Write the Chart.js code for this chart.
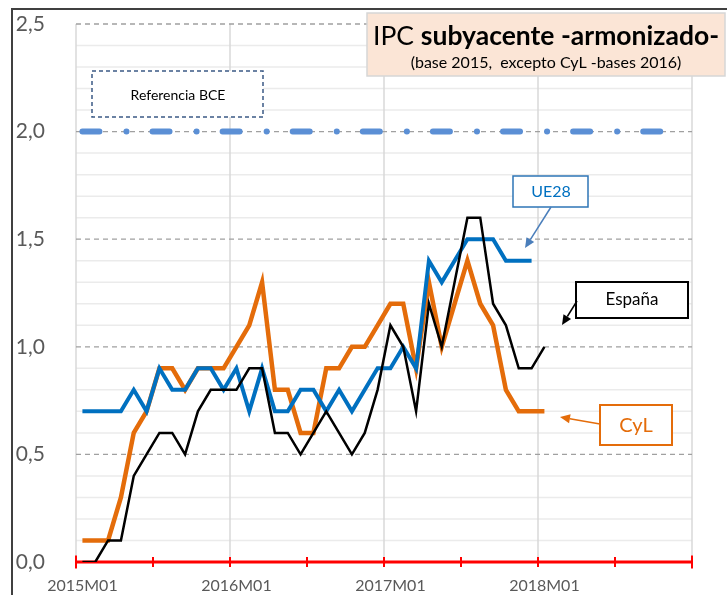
<!DOCTYPE html>
<html><head><meta charset="utf-8">
<script src="https://cdn.jsdelivr.net/npm/chart.js@4/dist/chart.umd.min.js"></script>
<style>html,body{margin:0;padding:0;background:#fff;}#wrap{position:relative;width:727px;height:595px;}</style>
</head><body><div id="wrap"><canvas id="c" width="727" height="595"></canvas></div>
<script>
const categories = [
 '2015M01','2015M02','2015M03','2015M04','2015M05','2015M06','2015M07','2015M08','2015M09','2015M10','2015M11','2015M12',
 '2016M01','2016M02','2016M03','2016M04','2016M05','2016M06','2016M07','2016M08','2016M09','2016M10','2016M11','2016M12',
 '2017M01','2017M02','2017M03','2017M04','2017M05','2017M06','2017M07','2017M08','2017M09','2017M10','2017M11','2017M12',
 '2018M01','2018M02','2018M03','2018M04','2018M05','2018M06','2018M07','2018M08','2018M09','2018M10','2018M11','2018M12'];
const espana = [0.0,0.0,0.1,0.1,0.4,0.5,0.6,0.6,0.5,0.7,0.8,0.8,
 0.8,0.9,0.9,0.6,0.6,0.5,0.6,0.7,0.6,0.5,0.6,0.8,
 1.1,1.0,0.7,1.2,1.0,1.3,1.6,1.6,1.2,1.1,0.9,0.9,
 1.0];
const ue28 = [0.7,0.7,0.7,0.7,0.8,0.7,0.9,0.8,0.8,0.9,0.9,0.8,
 0.9,0.7,0.9,0.7,0.7,0.8,0.8,0.7,0.8,0.7,0.8,0.9,
 0.9,1.0,0.9,1.4,1.3,1.4,1.5,1.5,1.5,1.4,1.4,1.4];
const cyl = [0.1,0.1,0.1,0.3,0.6,0.7,0.9,0.9,0.8,0.9,0.9,0.9,
 1.0,1.1,1.3,0.8,0.8,0.6,0.6,0.9,0.9,1.0,1.0,1.1,
 1.2,1.2,0.9,1.3,1.0,1.2,1.4,1.2,1.1,0.8,0.7,0.7,
 0.7];
const referenciaBCE = [2.0,2.0,2.0,2.0,2.0,2.0,2.0,2.0,2.0,2.0,2.0,2.0,
 2.0,2.0,2.0,2.0,2.0,2.0,2.0,2.0,2.0,2.0,2.0,2.0,
 2.0,2.0,2.0,2.0,2.0,2.0,2.0,2.0,2.0,2.0,2.0,2.0,
 2.0,2.0,2.0,2.0,2.0,2.0,2.0,2.0,2.0,2.0,2.0,2.0];
const yTickLabels = ['0,0','0,5','1,0','1,5','2,0','2,5'];
const titleRegular = 'IPC ';
const titleBold = 'subyacente -armonizado-';
const subtitle = '(base 2015,  excepto CyL -bases 2016)';

const FONT = 'Lato, "Open Sans", sans-serif';

function arrow(ctx, x1, y1, x2, y2, color) {
  ctx.save();
  ctx.strokeStyle = color; ctx.fillStyle = color; ctx.lineWidth = 1.5;
  const ang = Math.atan2(y2 - y1, x2 - x1);
  const L = 10, W = 4.5;
  const bx = x2 - L * Math.cos(ang), by = y2 - L * Math.sin(ang);
  ctx.beginPath(); ctx.moveTo(x1, y1); ctx.lineTo(bx, by); ctx.stroke();
  ctx.beginPath();
  ctx.moveTo(x2, y2);
  ctx.lineTo(bx + W * Math.sin(ang), by - W * Math.cos(ang));
  ctx.lineTo(bx - W * Math.sin(ang), by + W * Math.cos(ang));
  ctx.closePath(); ctx.fill();
  ctx.restore();
}
function box(ctx, x, y, w, h, stroke, lw, dash) {
  ctx.save();
  ctx.fillStyle = '#fff'; ctx.fillRect(x, y, w, h);
  ctx.strokeStyle = stroke; ctx.lineWidth = lw; ctx.setLineDash(dash || []);
  ctx.strokeRect(x, y, w, h);
  ctx.restore();
}
function label(ctx, text, x, y, size, color, weight) {
  ctx.save();
  ctx.font = (weight || 'normal') + ' ' + size + 'px ' + FONT;
  ctx.fillStyle = color; ctx.textAlign = 'center'; ctx.textBaseline = 'middle';
  ctx.fillText(text, x, y);
  ctx.restore();
}

const deco = {
  id: 'deco',
  beforeDatasetsDraw(c) {
    const { ctx, chartArea: a, scales: { x, y } } = c;
    ctx.save();
    // frame (chart border)
    ctx.strokeStyle = '#404040'; ctx.lineWidth = 2;
    ctx.beginPath(); ctx.moveTo(12, 595); ctx.lineTo(12, 9); ctx.lineTo(727, 9); ctx.stroke();
    // minor horizontal grid
    ctx.strokeStyle = '#ebebeb'; ctx.lineWidth = 1.5;
    for (let k = 1; k < 25; k++) {
      if (k % 5 === 0) continue;
      const py = y.getPixelForValue(k / 10);
      ctx.beginPath(); ctx.moveTo(a.left, py); ctx.lineTo(a.right, py); ctx.stroke();
    }
    // vertical grid at year boundaries
    const half = (x.getPixelForValue(1) - x.getPixelForValue(0)) / 2;
    const bnd = i => i < categories.length ? x.getPixelForValue(i) - half : x.getPixelForValue(categories.length - 1) + half;
    ctx.strokeStyle = '#d9d9d9'; ctx.lineWidth = 1.5;
    for (let i = 0; i <= categories.length; i += 12) {
      const px = bnd(i);
      ctx.beginPath(); ctx.moveTo(px, a.top); ctx.lineTo(px, a.bottom); ctx.stroke();
    }
    // major dashed
    ctx.strokeStyle = '#a0a0a0'; ctx.lineWidth = 1.3; ctx.setLineDash([5, 4]);
    for (let k = 5; k <= 25; k += 5) {
      const py = y.getPixelForValue(k / 10);
      ctx.beginPath(); ctx.moveTo(a.left, py); ctx.lineTo(a.right, py); ctx.stroke();
    }
    ctx.setLineDash([]);
    // red x axis
    const y0 = y.getPixelForValue(0);
    ctx.strokeStyle = '#ff0000'; ctx.lineWidth = 3;
    ctx.beginPath(); ctx.moveTo(a.left, y0); ctx.lineTo(a.right, y0); ctx.stroke();
    ctx.lineWidth = 2;
    for (let i = 0; i <= categories.length; i += 6) {
      const px = bnd(i);
      const t = (i === 0 || i === categories.length) ? 6.5 : 5;
      ctx.beginPath(); ctx.moveTo(px, y0 - t); ctx.lineTo(px, y0 + t); ctx.stroke();
    }
    ctx.restore();
  },
  afterDraw(c) {
    const ctx = c.ctx;
    ctx.save();
    // title box
    ctx.fillStyle = '#FBE5D6'; ctx.fillRect(367, 13, 358, 63);
    ctx.strokeStyle = '#d6d6d6'; ctx.lineWidth = 1.5; ctx.strokeRect(367, 13, 358, 63);
    const fs = 26.5;
    ctx.font = 'normal ' + fs + 'px ' + FONT;
    const w1 = ctx.measureText(titleRegular).width;
    ctx.font = 'bold ' + fs + 'px ' + FONT;
    const w2 = ctx.measureText(titleBold).width;
    let sx = 546 - (w1 + w2) / 2;
    ctx.fillStyle = '#000'; ctx.textBaseline = 'alphabetic'; ctx.textAlign = 'left';
    ctx.font = 'normal ' + fs + 'px ' + FONT; ctx.fillText(titleRegular, sx, 45);
    ctx.font = 'bold ' + fs + 'px ' + FONT; ctx.fillText(titleBold, sx + w1, 45);
    ctx.font = 'normal 16px ' + FONT; ctx.textAlign = 'center';
    ctx.fillText(subtitle, 546, 68);
    ctx.restore();
    // Referencia BCE
    box(ctx, 92, 71, 171, 46, '#3B5A85', 1.5, [4, 3]);
    label(ctx, 'Referencia BCE', 178, 95, 14, '#000');
    // UE28
    box(ctx, 513, 176, 75, 31, '#2E75B6', 1.5);
    label(ctx, 'UE28', 551, 192, 16, '#0070C0');
    arrow(ctx, 551, 207, 525, 248, '#4A7EBB');
    // España
    box(ctx, 576, 282, 112, 36, '#000', 2);
    label(ctx, 'España', 632, 300, 17, '#000');
    arrow(ctx, 577, 301, 562, 325, '#000');
    // CyL
    box(ctx, 600, 405, 72, 40, '#E46C0A', 2);
    label(ctx, 'CyL', 636, 426, 20, '#E46C0A');
    arrow(ctx, 600, 424, 560, 417, '#E46C0A');
  }
};

new Chart(document.getElementById('c'), {
  type: 'line',
  data: {
    labels: categories,
    datasets: [
      { label: 'España', data: espana, borderColor: '#000000', borderWidth: 2.5 },
      { label: 'UE28', data: ue28, borderColor: '#0070C0', borderWidth: 4 },
      { label: 'CyL', data: cyl, borderColor: '#E46C0A', borderWidth: 4.5 },
      { label: 'Referencia BCE', data: referenciaBCE, borderColor: '#5B8FD5', borderWidth: 6,
        borderDash: [17, 27, 0.1, 26], borderCapStyle: 'round' }
    ]
  },
  options: {
    responsive: false, animation: false,
    layout: { padding: { top: 24, right: 35, left: 0, bottom: 0 } },
    elements: { point: { radius: 0, hoverRadius: 0 }, line: { tension: 0, fill: false, borderJoinStyle: 'miter' } },
    plugins: { legend: { display: false }, tooltip: { enabled: false }, title: { display: false } },
    scales: {
      x: {
        type: 'category', offset: true,
        grid: { display: false, drawTicks: false }, border: { display: false },
        ticks: {
          autoSkip: false, maxRotation: 0, minRotation: 0, padding: 14,
          color: '#595959', font: { family: FONT, size: 16 },
          callback: function (v, i) { return i % 12 === 0 ? categories[i] : ''; }
        },
        afterFit: s => { s.height = 33; s.paddingLeft = 0; s.paddingRight = 0; s.paddingTop = 0; s.paddingBottom = 0; }
      },
      y: {
        min: 0, max: 2.5,
        grid: { display: false, drawTicks: false }, border: { display: false },
        ticks: {
          stepSize: 0.5, padding: 31, color: '#595959', font: { family: FONT, size: 21 },
          callback: (v, i) => yTickLabels[i]
        },
        afterFit: s => { s.width = 76; s.paddingTop = 0; s.paddingBottom = 0; s.paddingLeft = 0; s.paddingRight = 0; }
      }
    }
  },
  plugins: [deco]
});
</script></body></html>
